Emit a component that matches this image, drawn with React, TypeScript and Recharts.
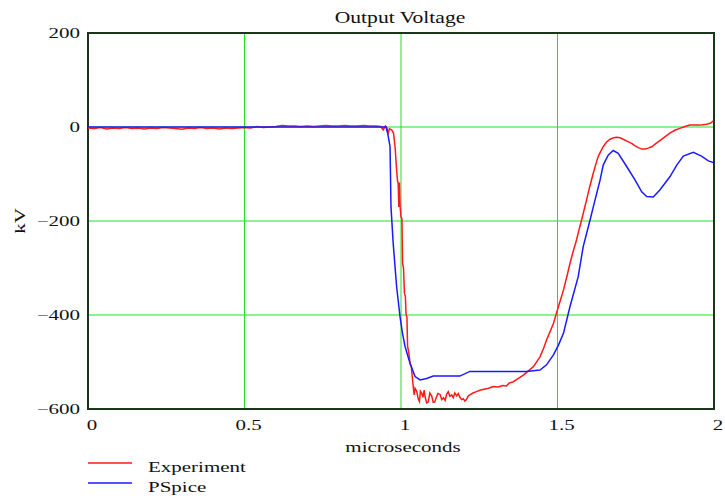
import { LineChart, Line, XAxis, YAxis, CartesianGrid, ReferenceArea } from "recharts";

// microseconds / kV
const expTime = [
  0, 0.02, 0.04, 0.06, 0.08, 0.1, 0.12, 0.14, 0.16, 0.18, 0.2, 0.22, 0.24, 0.26, 0.28, 0.3, 0.32, 0.34, 0.36, 0.38,
  0.4, 0.42, 0.44, 0.46, 0.48, 0.5, 0.52, 0.54, 0.56, 0.58, 0.6, 0.62, 0.64, 0.66, 0.68, 0.7, 0.72, 0.74, 0.76, 0.78,
  0.8, 0.82, 0.84, 0.86, 0.88, 0.9, 0.92, 0.935, 0.943, 0.95, 0.955, 0.959, 0.963, 0.97, 0.976, 0.981, 0.986, 0.989,
  0.991, 0.993, 0.995, 0.997, 1.0, 1.003, 1.005, 1.008, 1.011, 1.014, 1.016, 1.019, 1.021, 1.025, 1.029, 1.033, 1.036,
  1.039, 1.042, 1.045, 1.05, 1.055, 1.059, 1.062, 1.066, 1.07, 1.074, 1.077, 1.082, 1.087, 1.092, 1.098, 1.103, 1.108,
  1.113, 1.118, 1.125, 1.13, 1.136, 1.141, 1.146, 1.151, 1.156, 1.162, 1.167, 1.172, 1.178, 1.183, 1.188, 1.194, 1.199,
  1.204, 1.209, 1.215, 1.22, 1.23, 1.241, 1.252, 1.265, 1.28, 1.295, 1.31, 1.325, 1.337, 1.345, 1.359, 1.375, 1.391,
  1.405, 1.423, 1.435, 1.444, 1.455, 1.465, 1.476, 1.487, 1.495, 1.503, 1.511, 1.519, 1.53, 1.54, 1.55, 1.561, 1.569,
  1.577, 1.585, 1.593, 1.603, 1.614, 1.622, 1.63, 1.638, 1.646, 1.657, 1.668, 1.679, 1.689, 1.7, 1.71, 1.725, 1.737,
  1.748, 1.758, 1.77, 1.78, 1.79, 1.801, 1.815, 1.827, 1.843, 1.859, 1.875, 1.891, 1.907, 1.923, 1.94, 1.955, 1.965,
  1.976, 1.988, 1.998,
];
const expVolt = [
  -2, -3, -1, -4, -2, -3, -1, -3, -2, -4, -2, -3, -1, -2, -3, -5, -2, -3, -1, -3,
  -2, -4, -2, -3, -2, -1, -2, 1, -1, 0, 1, 3, 2, 2, 1, 2, 1, 2, 3, 2,
  2, 3, 2, 2, 3, 2, 2, 1, -6, 2, -2, -13, -4, -6, -13, -42, -91, -115,
  -120, -170, -118, -168, -191, -195, -290, -300, -354, -360, -397, -405, -467, -480, -503, -510, -531,
  -552, -570, -556, -562, -578, -584, -562, -566, -575, -560, -574, -587, -585, -566, -572, -586, -585,
  -575, -567, -569, -580, -576, -582, -568, -563, -573, -570, -576, -566, -572, -567, -575, -580, -578,
  -583, -580, -572, -570, -566, -563, -560, -558, -556, -552, -553, -550, -551, -545, -542, -535, -528,
  -520, -510, -498, -489, -472, -453, -436, -418, -400, -382, -365, -347, -318, -290, -265, -240, -218,
  -198, -176, -155, -127, -99, -80, -63, -52, -42, -32, -26, -23, -22, -23, -26, -31, -35,
  -40, -44, -47, -47, -45, -42, -35, -29, -21, -13, -7, -3, 1, 4, 4, 4, 5,
  6, 8, 13,
];

const pspTime = [
  0, 0.9, 0.952, 0.958, 0.965, 0.968, 0.975, 0.986, 0.997, 1.005, 1.013, 1.029, 1.045, 1.061, 1.082, 1.103, 1.188,
  1.22, 1.252, 1.401, 1.444, 1.465, 1.487, 1.503, 1.519, 1.54, 1.566, 1.582, 1.604, 1.62, 1.636, 1.646, 1.662, 1.678,
  1.694, 1.721, 1.748, 1.769, 1.785, 1.806, 1.827, 1.859, 1.881, 1.902, 1.934, 1.96, 1.982, 2.0,
];
const pspVolt = [
  0, 0, 0, -15, -42, -170, -247, -340, -404, -440, -467, -503, -531, -538, -535, -530, -530,
  -520, -520, -520, -517, -506, -485, -464, -439, -382, -319, -255, -198, -155, -113, -81, -60, -50,
  -56, -84, -113, -138, -148, -149, -134, -106, -81, -62, -54, -62, -72, -76,
];

const xTicks = [0, 0.5, 1, 1.5, 2];
const yTicks = [-600, -400, -200, 0, 200];

const seriesNames = ["Experiment", "PSpice"];
const seriesColors = ["#ff1a1a", "#1a1aff"];

const expData = expTime.map((t, i) => ({ t, v: expVolt[i] }));
const pspData = pspTime.map((t, i) => ({ t, v: pspVolt[i] }));

const FONT = "'Liberation Serif', 'Times New Roman', serif";
const STRETCH = 1.4;

const Wide = ({ x, y, anchor = "start", size = 15, sx = STRETCH, rotate = 0, children }: any) => (
  <text
    transform={`translate(${x},${y}) rotate(${rotate}) scale(${sx},1)`}
    textAnchor={anchor}
    fontFamily={FONT}
    fontSize={size}
    fill="#111"
  >
    {children}
  </text>
);

const fmtY = (v: number) => (v < 0 ? `\u2212${Math.abs(v)}` : `${v}`);

const YTick = (props: any) => (
  <Wide x={80} y={props.y + 5} anchor="end">
    {fmtY(props.payload.value)}
  </Wide>
);

const XTick = (props: any) => (
  <Wide x={props.x + 4} y={430} anchor="middle">
    {String(props.payload.value)}
  </Wide>
);

export default function App() {
  return (
    <div style={{ position: "absolute", left: 0, top: 0, width: 725, height: 498, background: "#fff" }}>
      <LineChart width={725} height={498} margin={{ top: 33, right: 11, bottom: 59, left: 0 }}>
        <CartesianGrid stroke="#22e022" strokeWidth={1} />
        <XAxis
          type="number"
          dataKey="t"
          domain={[0, 2]}
          ticks={xTicks}
          allowDataOverflow
          height={30}
          axisLine={false}
          tickLine={false}
          tick={<XTick />}
        />
        <YAxis
          type="number"
          domain={[-600, 200]}
          ticks={yTicks}
          allowDataOverflow
          width={88}
          axisLine={false}
          tickLine={false}
          tick={<YTick />}
        />
        <Line
          data={expData}
          dataKey="v"
          name={seriesNames[0]}
          type="linear"
          stroke={seriesColors[0]}
          strokeWidth={1.5}
          dot={false}
          isAnimationActive={false}
        />
        <Line
          data={pspData}
          dataKey="v"
          name={seriesNames[1]}
          type="linear"
          stroke={seriesColors[1]}
          strokeWidth={1.5}
          dot={false}
          isAnimationActive={false}
        />
        <ReferenceArea x1={0} x2={2} y1={-600} y2={200} fill="none" stroke="#1c361c" strokeWidth={2} ifOverflow="visible" />
      </LineChart>
      <svg width={725} height={498} style={{ position: "absolute", left: 0, top: 0, pointerEvents: "none" }}>
        <Wide x={400} y={23} anchor="middle" size={16} sx={1.35}>Output Voltage</Wide>
        <Wide x={403} y={452} anchor="middle">microseconds</Wide>
        <Wide x={25} y={221} anchor="middle" rotate={-90}>kV</Wide>
        {seriesNames.map((name, i) => (
          <g key={name}>
            <line x1={88} x2={132} y1={463 + i * 20} y2={463 + i * 20} stroke={seriesColors[i]} strokeWidth={1.5} />
            <Wide x={148} y={472 + i * 20}>{name}</Wide>
          </g>
        ))}
      </svg>
    </div>
  );
}
